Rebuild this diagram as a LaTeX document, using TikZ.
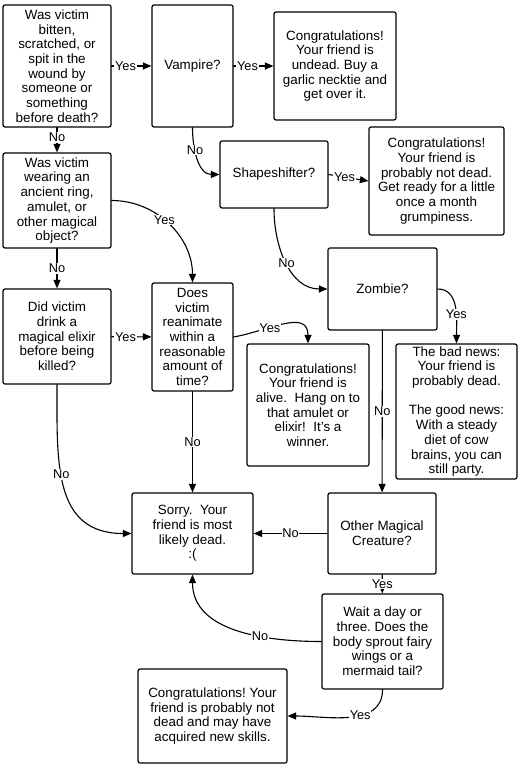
\documentclass[tikz,border=0pt]{standalone}
\usepackage{fontspec}
\setmainfont{Liberation Sans}
\usetikzlibrary{arrows.meta}
\frenchspacing

\begin{document}
\begin{tikzpicture}[x=1pt, y=1pt, line cap=round, line join=round,
	box/.style={draw, rounded corners=2pt, line width=1.2pt, align=center,
		inner sep=1pt, font=\fontsize{13.4}{14.7}\selectfont},
	link/.style={-{Triangle[length=8.5pt,width=7pt]}, line width=1.1pt},
	lbl/.style={fill=white, inner sep=0.6pt, font=\fontsize{12.8}{14}\selectfont}]
	
	% Fix the page to the size of the reference
	\useasboundingbox (0,0) rectangle (520,-767);
	
	% First column of questions
	\node[box, minimum width=108, minimum height=122] (bitten) at (57,-66)
	{Was victim\\bitten,\\scratched, or\\spit in the\\wound by\\someone or\\something\\before death?};
	\node[box, minimum width=108, minimum height=95] (wear) at (57,-200.5)
	{Was victim\\wearing an\\ancient ring,\\amulet, or\\other magical\\object?};
	\node[box, minimum width=108, minimum height=95] (drink) at (57,-336.5)
	{Did victim\\drink a\\magical elixir\\before being\\killed?};
	
	% Second column
	\node[box, minimum width=81, minimum height=122] (vamp) at (192.5,-66) {Vampire?};
	\node[box, minimum width=81, minimum height=108] (reanim) at (192.5,-337)
	{Does\\victim\\reanimate\\within a\\reasonable\\amount of\\time?};
	\node[box, minimum width=121, minimum height=81] (sorry) at (192.5,-533.5)
	{Sorry.\ \ Your\\friend is most\\likely dead.\\:(};
	
	% Creatures
	\node[box, minimum width=122, minimum height=108] (undead) at (335,-66)
	{Congratulations!\\Your friend is\\undead. Buy a\\garlic necktie and\\get over it.};
	\node[box, minimum width=108, minimum height=67] (shape) at (274,-174.5) {Shapeshifter?};
	\node[box, minimum width=135, minimum height=108] (month) at (436.5,-181)
	{Congratulations!\\Your friend is\\probably not dead.\\Get ready for a little\\once a month\\grumpiness.};
	\node[box, minimum width=109, minimum height=82] (zombie) at (382.5,-289) {Zombie?};
	\node[box, minimum width=122, minimum height=122] (alive) at (308,-405)
	{Congratulations!\\Your friend is\\alive.\ \ Hang on to\\that amulet or\\elixir!\ \ It's a\\winner.};
	\node[box, minimum width=121, minimum height=135] (brains) at (456.5,-411.5)
	{The bad news:\\Your friend is\\probably dead.\\[14.7pt]The good news:\\With a steady\\diet of cow\\brains, you can\\still party.};
	\node[box, minimum width=108, minimum height=81] (other) at (382,-533.5)
	{Other Magical\\Creature?};
	\node[box, minimum width=121, minimum height=95] (wait) at (382.5,-641.5)
	{Wait a day or\\three. Does the\\body sprout fairy\\wings or a\\mermaid tail?};
	\node[box, minimum width=149, minimum height=94] (skills) at (212.5,-716)
	{Congratulations! Your\\friend is probably not\\dead and may have\\acquired new skills.};
	
	% Straight connectors
	\draw[link] (bitten) -- node[lbl, pos=0.35] {Yes} (vamp);
	\draw[link] (vamp) -- node[lbl, pos=0.35] {Yes} (undead);
	\draw[link] (bitten) -- node[lbl, pos=0.4] {No} (wear);
	\draw[link] (wear) -- node[lbl] {No} (drink);
	\draw[link] (drink) -- node[lbl, pos=0.35] {Yes} (reanim);
	\draw[link] (shape.east) -- node[lbl, pos=0.4] {Yes} (month.west);
	\draw[link] (reanim) -- node[lbl] {No} (sorry);
	\draw[link] (zombie) -- node[lbl] {No} (other);
	\draw[link] (other) -- node[lbl] {No} (sorry);
	\draw[link] (other) -- node[lbl] {Yes} (wait);
	
	% Curved connectors
	\draw[link] (vamp.south) to[out=-90, in=180] node[lbl, pos=0.35] {No} (shape.west);
	\draw[link] (shape.south) to[out=-90, in=180] node[lbl, pos=0.5] {No} (zombie.west);
	\draw[link] (wear.east) to[out=0, in=90] node[lbl, pos=0.45] {Yes} (reanim.north);
	\draw[link] (reanim.east) to[out=10, in=90, looseness=1.2] node[lbl, pos=0.35] {Yes} (alive.north);
	\draw[link] (zombie.east) to[out=0, in=90] node[lbl, pos=0.6] {Yes} (brains.north);
	\draw[link] (drink.south) to[out=-90, in=180, looseness=1.2] node[lbl, pos=0.42] {No} (sorry.west);
	\draw[link] (wait.west) to[out=180, in=-90] node[lbl, pos=0.35] {No} (sorry.south);
	\draw[link] (wait.south) to[out=-90, in=0] node[lbl, pos=0.4] {Yes} (skills.east);
\end{tikzpicture}
\end{document}
